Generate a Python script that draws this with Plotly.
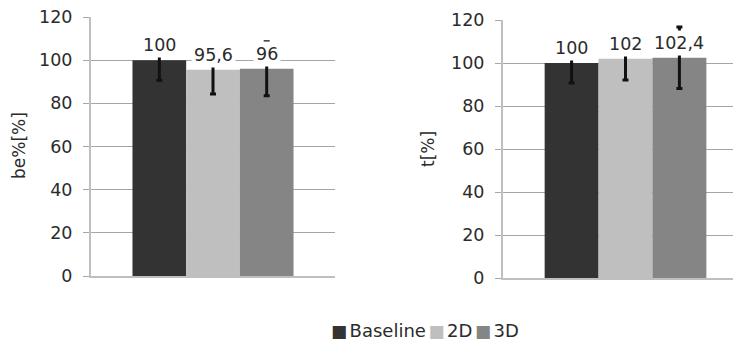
import plotly.graph_objects as go

# ---- data ----
series = ["Baseline", "2D", "3D"]
colors = ["#333333", "#bfbfbf", "#858585"]
be_values = [100, 95.6, 96]
be_errors = [9.3, 11.3, 12.5]
t_values = [100, 102, 102.4]
t_errors = [9.3, 9.9, 14.3]
y_ticks = [0, 20, 40, 60, 80, 100, 120]
left_title = "be%[%]"
right_title = "t[%]"

# the page body adds an 8px margin; work in reference pixels shifted by it
OFF = 8
W, H = 741 - OFF, 342 - OFF
FONT = "DejaVu Sans"
TXT = "#2b2b2b"
BARGAP = 0.34

def px(x):
    return (x - OFF) / W

def py(y):
    return (H - (y - OFF)) / H

fig = go.Figure()

def fmt(v):
    return f"{v:g}".replace(".", ",")

for panel, (vals, errs, xa, ya) in enumerate([
        (be_values, be_errors, "x", "y"),
        (t_values, t_errors, "x2", "y2")]):
    for i, name in enumerate(series):
        fig.add_trace(go.Bar(
            x=[""], y=[vals[i]], name=name, marker=dict(color=colors[i], line=dict(width=0)),
            error_y=dict(type="data", array=[errs[i]], color="#111111", thickness=3, width=3),
            xaxis=xa, yaxis=ya, showlegend=False, offsetgroup=str(i)))
    bw = (1 - BARGAP) / len(series)
    for i in range(len(series)):
        fig.add_annotation(x=(i - 1) * bw, y=vals[i], xref=xa, yref=ya,
                           text=fmt(vals[i]), showarrow=False, xanchor="center",
                           yanchor="bottom", yshift=2, bgcolor="white", borderpad=2,
                           font=dict(family=FONT, size=17.5, color=TXT))

axis_common = dict(showgrid=True, gridcolor="#a6a6a6", gridwidth=1,
                   showline=True, linecolor="#bfbfbf", linewidth=2,
                   ticks="outside", ticklen=6, tickcolor="#a6a6a6",
                   tickvals=y_ticks, range=[0, 120], zeroline=False, automargin=False,
                   ticklabeloverflow="allow",
                   tickfont=dict(family=FONT, size=17.5, color=TXT), ticklabelstandoff=7)
xcommon = dict(showline=True, linecolor="#bfbfbf", linewidth=2, showticklabels=False,
               ticks="", showgrid=False, zeroline=False, type="category", automargin=False)

fig.update_layout(
    width=W, height=H, margin=dict(l=0, r=0, t=0, b=0, autoexpand=False),
    paper_bgcolor="white", plot_bgcolor="white",
    barmode="group", bargap=BARGAP, bargroupgap=0,
    xaxis=dict(domain=[px(91), px(335)], range=[-0.5, 0.5], **xcommon),
    yaxis=dict(domain=[py(276), py(17)], anchor="x", **axis_common),
    xaxis2=dict(domain=[px(503), 1.0], range=[-0.5, 0.5 - 7 / 245], anchor="y2", **xcommon),
    yaxis2=dict(domain=[py(278), py(20)], anchor="x2", **axis_common),
    font=dict(family=FONT, color=TXT),
)

# axis titles
for tx, ty, txt in [(19, 146, left_title), (428, 149, right_title)]:
    fig.add_annotation(x=px(tx), y=py(ty), xref="paper", yref="paper", text=txt,
                       textangle=-90, showarrow=False, xanchor="center", yanchor="middle",
                       font=dict(family=FONT, size=17, color=TXT))

# legend
gap = "<span style='font-size:8px'> </span>"
legend_text = gap.join(
    f"<span style='color:{c};font-size:17px'>■</span>{gap}{n}" for n, c in zip(series, colors))
fig.add_annotation(x=px(425), y=py(330), xref="paper", yref="paper", text=legend_text,
                   showarrow=False, xanchor="center", yanchor="middle",
                   font=dict(family=FONT, size=18, color=TXT))

fig.write_html("out.html")
